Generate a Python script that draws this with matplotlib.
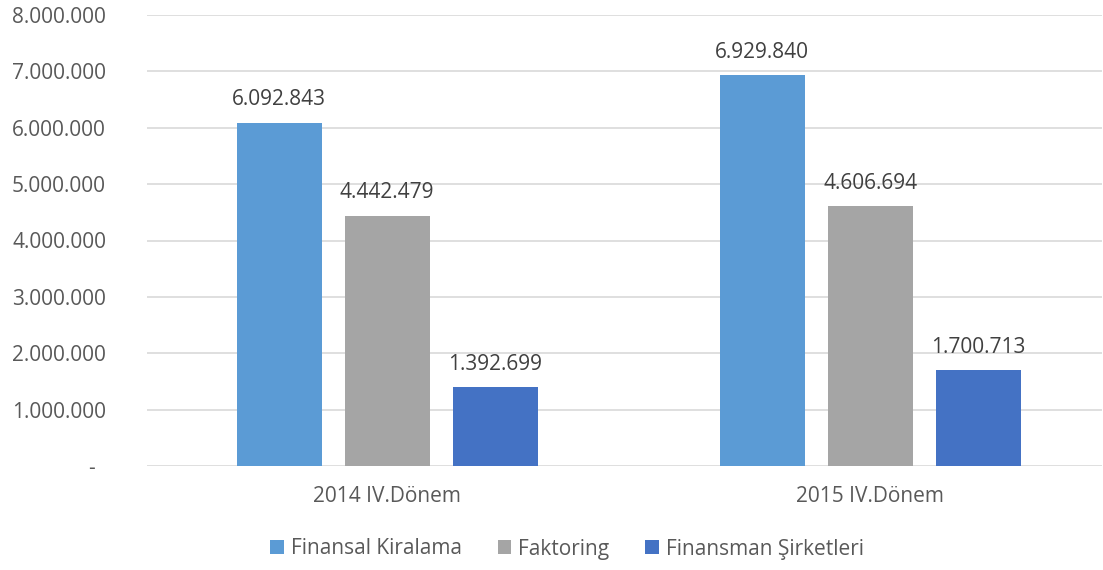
import matplotlib
matplotlib.use("Agg")
import matplotlib.pyplot as plt
from matplotlib.ticker import FuncFormatter
import numpy as np

categories = ["2014 IV.Dönem", "2015 IV.Dönem"]
series_names = ["Finansal Kiralama", "Faktoring", "Finansman Şirketleri"]
finansal_kiralama = [6092843, 6929840]
faktoring = [4442479, 4606694]
finansman = [1392699, 1700713]
yticks = [0, 1000000, 2000000, 3000000, 4000000, 5000000, 6000000, 7000000, 8000000]

colors = ["#5B9BD5", "#A5A5A5", "#4472C4"]
text_color = "#595959"
FS = 15

plt.rcParams['font.family'] = ['Open Sans', 'DejaVu Sans']

def fmt(v):
    if v == 0:
        return "-  "
    return f"{int(v):,}".replace(",", ".")

fig = plt.figure(figsize=(11.03, 5.70), dpi=100)
ax = fig.add_axes([147/1103, 1-466/570, (1102-147)/1103, (466-15)/570])

x = np.arange(len(categories))
width = 0.176
step = 0.2236
data = [finansal_kiralama, faktoring, finansman]
for i, (vals, name, c) in enumerate(zip(data, series_names, colors)):
    pos = x + (i - 1) * step
    bars = ax.bar(pos, vals, width, color=c, label=name, zorder=3)
    for b, v in zip(bars, vals):
        ax.annotate(fmt(v), (b.get_x() + b.get_width()/2, v),
                    xytext=(0, 12.5), textcoords="offset points",
                    ha="center", va="baseline", fontsize=FS, color="#404040")

ax.set_xlim(-0.497, 1.48)
ax.set_ylim(0, 8000000)
ax.set_yticks(yticks)
ax.yaxis.set_major_formatter(FuncFormatter(lambda v, p: fmt(v)))
ax.set_xticks(x)
ax.set_xticklabels(categories)
ax.tick_params(axis="both", length=0, labelsize=FS, colors=text_color)
ax.tick_params(axis="y", pad=29.5)
ax.tick_params(axis="x", pad=14.5)
ax.grid(axis="y", color="#D9D9D9", linewidth=1.2, zorder=0)
for s in ax.spines.values():
    s.set_visible(False)

leg = fig.legend(loc="center", bbox_to_anchor=(567/1103, 1-549/570), ncol=3, frameon=False,
                 fontsize=FS, handlelength=0.67, handleheight=0.67, handletextpad=0.33,
                 columnspacing=1.7)
for t in leg.get_texts():
    t.set_color(text_color)

fig.savefig("out.png", dpi=100)
